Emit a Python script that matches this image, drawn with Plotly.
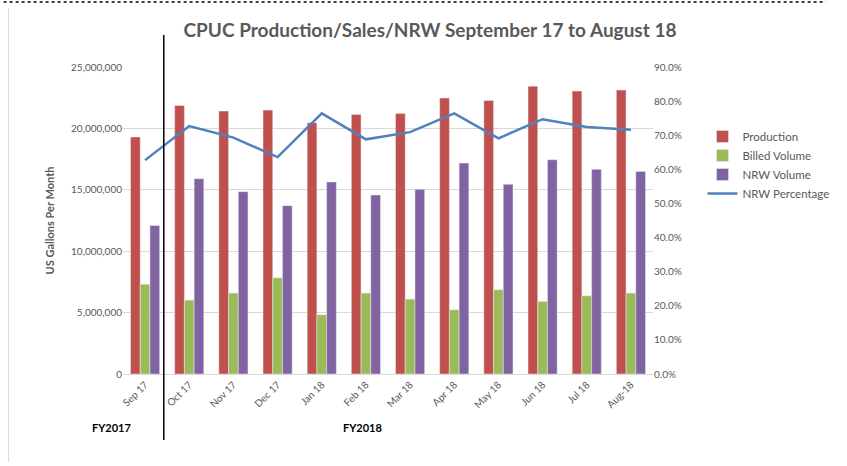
import plotly.graph_objects as go

months = ["Sep 17", "Oct 17", "Nov 17", "Dec 17", "Jan 18", "Feb 18", "Mar 18",
          "Apr 18", "May 18", "Jun 18", "Jul 18", "Aug-18"]
production = [19300000, 21870000, 21410000, 21490000, 20460000, 21140000, 21220000,
              22470000, 22280000, 23440000, 23040000, 23120000]
billed = [7300000, 6020000, 6590000, 7830000, 4820000, 6590000, 6100000,
          5230000, 6860000, 5910000, 6370000, 6590000]
nrw_volume = [12100000, 15910000, 14850000, 13710000, 15640000, 14580000, 15040000,
              17180000, 15450000, 17450000, 16670000, 16500000]
nrw_pct = [0.627, 0.727, 0.693, 0.636, 0.764, 0.688, 0.709,
           0.764, 0.691, 0.747, 0.724, 0.716]

W, H = 847, 466
L, R, T, B = 123, 669, 67, 374


def px(x):
    return (x - L) / (R - L)


def py(y):
    return (B - y) / (B - T)


gray = "#595959"
font_family = "Lato, 'Open Sans', sans-serif"

fig = go.Figure()
fig.add_trace(go.Bar(x=months, y=production, name="Production", marker_color="#C0504D"))
fig.add_trace(go.Bar(x=months, y=billed, name="Billed Volume", marker_color="#9BBB59"))
fig.add_trace(go.Bar(x=months, y=nrw_volume, name="NRW Volume", marker_color="#8064A2"))
fig.add_trace(go.Scatter(x=months, y=nrw_pct, name="NRW Percentage", mode="lines",
                         line=dict(color="#4F81BD", width=2.5), yaxis="y2"))

fig.update_layout(
    width=W, height=H,
    margin=dict(l=L, r=W - R, t=T, b=H - B),
    paper_bgcolor="white", plot_bgcolor="white",
    font=dict(family=font_family, color=gray, size=10),
    barmode="group", bargap=0.34, bargroupgap=0,
    title=dict(text="<b>CPUC Production/Sales/NRW September 17 to August 18</b>",
               x=430 / W, xanchor="center", y=1 - 30 / H, yanchor="middle",
               font=dict(size=19, color=gray, family=font_family)),
    xaxis=dict(tickangle=-45, showgrid=False, showline=True, linecolor="#d9d9d9",
               ticks="", tickfont=dict(size=10, color=gray)),
    yaxis=dict(range=[0, 25000000], dtick=5000000, tickformat=",", showgrid=True,
               gridcolor="#d9d9d9", zeroline=False, ticks="", showline=False,
               title=dict(text="<b>US Gallons Per Month</b>", font=dict(size=11, color=gray),
                          standoff=14),
               tickfont=dict(size=10, color=gray)),
    yaxis2=dict(range=[0, 0.9], dtick=0.1, tickformat=".1%", overlaying="y", side="right",
                showgrid=False, zeroline=False, ticks="", tickfont=dict(size=10, color=gray)),
    legend=dict(x=px(720), y=py(122), xanchor="left", yanchor="top",
                font=dict(size=11.5, color=gray), bgcolor="rgba(0,0,0,0)",
                tracegroupgap=0, itemwidth=30),
    showlegend=True,
)

fig.add_shape(type="line", xref="paper", yref="paper", x0=px(165), x1=px(165),
              y0=py(35), y1=py(440), line=dict(color="black", width=1.5))
fig.add_shape(type="line", xref="paper", yref="paper", x0=px(0), x1=px(847),
              y0=py(2), y1=py(2), line=dict(color="#404040", width=2, dash="dot"))
fig.add_shape(type="line", xref="paper", yref="paper", x0=px(5), x1=px(5),
              y0=py(8), y1=py(462), line=dict(color="#d9d9d9", width=1))

fig.add_annotation(text="<b>FY2017</b>", xref="paper", yref="paper", x=px(89), y=py(436),
                   showarrow=False, font=dict(size=11, color="black", family=font_family))
fig.add_annotation(text="<b>FY2018</b>", xref="paper", yref="paper", x=px(370), y=py(436),
                   showarrow=False, font=dict(size=11, color="black", family=font_family))

fig.write_html("out.html", config={"displayModeBar": False},
               post_script="document.body.style.margin='0';document.body.style.overflow='hidden';")
